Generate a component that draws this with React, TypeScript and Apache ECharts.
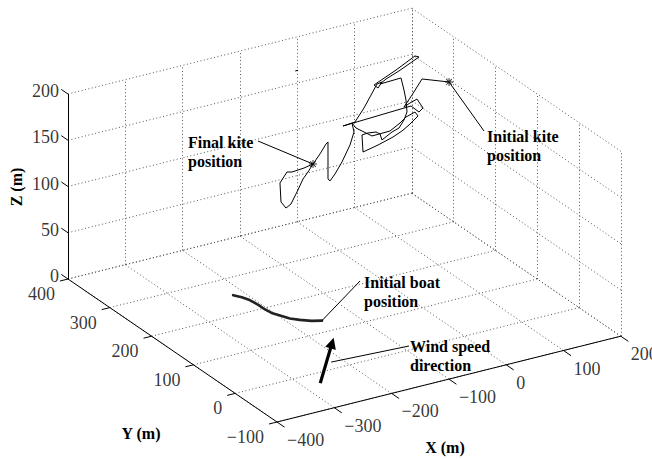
import React, { useEffect, useRef } from "react";
import * as echarts from "echarts";

const W = 652;
const H = 459;

// Axis ticks (data units, metres)
const xTicks = [-400, -300, -200, -100, 0, 100, 200];
const yTicks = [-100, 0, 100, 200, 300, 400];
const zTicks = [0, 50, 100, 150, 200];

// Kite trajectory (m), from initial to final position
const kiteX = [192.0, 144.9, 127.4, 113.4, 123.9, 136.1, 146.6, 139.6, 125.7, 7.0, 27.9, 43.6, 54.1, 66.3, 75.0, 68.1, 61.1, 99.5, 132.6, 139.6, 104.7, 82.0, 71.6, 108.2, 113.4, 116.9, 118.7, 113.4, 104.7, 92.5, 75.0, 71.6, 64.6, 50.6, 40.1, 41.9, 68.1, 94.2, 109.9, 122.2, 137.9, 132.6, 116.9, 106.5, 89.0, 57.6, 29.7, 22.7, 26.2, 19.2, 5.2, -7.0, -15.7, -19.2, -19.2, -19.2, -22.7, -33.2, -45.4, -61.1, -82.0, -90.8, -103.0, -101.2, -92.5, -83.8, -73.3, -62.8, -54.1, -45.4];
const kiteY = [300, 300, 300, 300, 300, 300, 300, 300, 300, 300, 300, 300, 300, 300, 300, 300, 300, 300, 300, 300, 300, 300, 300, 300, 300, 300, 300, 300, 300, 300, 300, 300, 300, 300, 300, 300, 300, 300, 300, 300, 300, 300, 300, 300, 300, 300, 300, 300, 300, 300, 300, 300, 300, 300, 300, 300, 300, 300, 300, 300, 300, 300, 300, 300, 300, 300, 300, 300, 300, 300];
const kiteZ = [152.4, 162.9, 148.3, 137.5, 140.2, 142.6, 131.3, 128.0, 136.7, 133.4, 134.5, 147.2, 157.5, 169.6, 170.5, 165.0, 169.4, 179.6, 189.7, 187.5, 177.8, 172.6, 168.8, 169.7, 155.9, 144.5, 131.3, 123.4, 116.1, 113.7, 107.8, 114.8, 118.0, 119.1, 118.6, 99.9, 103.4, 108.0, 112.1, 116.7, 124.0, 129.1, 126.1, 121.3, 115.3, 114.8, 127.7, 134.2, 123.9, 111.0, 94.8, 83.7, 77.5, 80.2, 100.7, 120.2, 118.5, 109.4, 100.4, 98.5, 97.4, 98.8, 88.8, 68.0, 60.1, 63.1, 74.5, 86.9, 93.1, 100.4];

// Short stray kite sample
const strayX = [-18, -13];
const strayY = [380, 380];
const strayZ = [172, 172];

// Boat trajectory (m), from initial position
const boatX = [-153, -167, -180, -190, -197, -203, -205, -205, -207, -212, -219];
const boatY = [131, 137, 147, 157, 171, 183, 196, 212, 230, 242, 253];
const boatZ = [0, 0, 0, 0, 0, 0, 0, 0, 0, 0, 0];

// Wind speed direction arrow (base, tip)
const windX = [-272, -182];
const windY = [-28, 67];
const windZ = [0, 0];

// ---- view projection (azimuth/elevation of the 3-D axes, in px per metre) ----
const ORIGIN = [464.4, 336.2];
const EX = [0.573, -0.143];
const EY = [-0.418, -0.286];
const EZ = -0.925;
const proj = (x: number, y: number, z: number): number[] => [
  ORIGIN[0] + EX[0] * x + EY[0] * y,
  ORIGIN[1] + EX[1] * x + EY[1] * y + EZ * z,
];

const X0 = xTicks[0], X1 = xTicks[xTicks.length - 1];
const Y0 = yTicks[0], Y1 = yTicks[yTicks.length - 1];
const Z0 = zTicks[0], Z1 = zTicks[zTicks.length - 1];

const fmt = (v: number) => (v < 0 ? "\u2212" + Math.abs(v) : String(v));
const FONT = "'Liberation Serif', 'Times New Roman', Times, serif";

export default function App() {
  const ref = useRef<HTMLDivElement>(null);
  useEffect(() => {
    const chart = echarts.init(ref.current!, null, { renderer: "svg" });
    const seg = (a: number[], b: number[]) => ({ coords: [proj(a[0], a[1], a[2]), proj(b[0], b[1], b[2])] });

    const grid: any[] = [];
    xTicks.forEach((x) => grid.push(seg([x, Y1, Z0], [x, Y1, Z1])));
    zTicks.forEach((z) => grid.push(seg([X0, Y1, z], [X1, Y1, z])));
    yTicks.forEach((y) => grid.push(seg([X1, y, Z0], [X1, y, Z1])));
    zTicks.forEach((z) => grid.push(seg([X1, Y0, z], [X1, Y1, z])));
    xTicks.forEach((x) => grid.push(seg([x, Y0, Z0], [x, Y1, Z0])));
    yTicks.forEach((y) => grid.push(seg([X0, y, Z0], [X1, y, Z0])));

    const axes: any[] = [
      seg([X0, Y1, Z0], [X0, Y1, Z1]),
      seg([X0, Y0, Z0], [X0, Y1, Z0]),
      seg([X0, Y0, Z0], [X1, Y0, Z0]),
    ];
    zTicks.forEach((z) => axes.push(seg([X0, Y1, z], [X0, Y1 + 16, z])));
    yTicks.forEach((y) => axes.push(seg([X0, y, Z0], [X0 - 14, y, Z0])));
    xTicks.forEach((x) => axes.push(seg([x, Y0, Z0], [x, Y0 - 18, Z0])));

    const kitePts = kiteX.map((x, i) => proj(x, kiteY[i], kiteZ[i]));
    const strayPts = strayX.map((x, i) => proj(x, strayY[i], strayZ[i]));
    const boatPts = boatX.map((x, i) => proj(x, boatY[i], boatZ[i]));
    const windPts = windX.map((x, i) => proj(x, windY[i], windZ[i]));
    const kiteStart = kitePts[0];
    const kiteEnd = kitePts[kitePts.length - 1];
    const windMid = proj((windX[0] + windX[1]) / 2, (windY[0] + windY[1]) / 2, 0);

    const leaders = [
      { coords: [[258, 141], kiteEnd] },
      { coords: [[484, 131], kiteStart] },
      { coords: [[360, 281], boatPts[0]] },
      { coords: [[409, 346], [windMid[0] + 5, windMid[1] - 1]] },
    ];

    const lineS = (data: any[], style: any, extra: any = {}) => ({
      type: "lines",
      coordinateSystem: "cartesian2d",
      polyline: true,
      silent: true,
      data,
      lineStyle: { opacity: 1, curveness: 0, ...style },
      ...extra,
    });

    const labelS = (items: { p: number[]; t: string }[], align: string, fontSize: number, fontWeight: string) => ({
      type: "scatter",
      symbolSize: 0,
      silent: true,
      z: 10,
      data: items.map((it) => ({ value: it.p, name: it.t })),
      label: {
        show: true,
        position: [0, 0],
        formatter: "{b}",
        align,
        verticalAlign: "middle",
        fontFamily: FONT,
        fontSize,
        fontWeight,
        color: "#000",
      },
    });

    const zLabels = zTicks.map((z) => {
      const p = proj(X0, Y1, z);
      return { p: [p[0] - 9, p[1] - 3], t: fmt(z) };
    });
    const yLabels = yTicks.map((y) => {
      const p = proj(X0, y, Z0);
      return { p: [p[0] - 13, p[1] + 15], t: fmt(y) };
    });
    const xLabels = xTicks.map((x) => {
      const p = proj(x, Y0, Z0);
      return { p: [p[0] + 10, p[1] + 18], t: fmt(x) };
    });

    const star =
      "path://M-0.6,-5L0.6,-5L0.6,5L-0.6,5Z M-5,-0.6L5,-0.6L5,0.6L-5,0.6Z M-3.9,-3.1L-3.1,-3.9L3.9,3.1L3.1,3.9Z M3.1,-3.9L3.9,-3.1L-3.1,3.9L-3.9,3.1Z";

    const annot = (x: number, top: number, text: string) => ({
      type: "text",
      x,
      y: top,
      silent: true,
      z: 100,
      style: {
        text,
        fill: "#000",
        font: `bold 16px ${FONT}`,
        lineHeight: 19,
        textAlign: "left",
        textVerticalAlign: "top",
      },
    });

    const option: any = {
      animation: false,
      backgroundColor: "#fff",
      grid: { left: 0, right: 0, top: 0, bottom: 0, containLabel: false },
      xAxis: { type: "value", min: 0, max: W, show: false },
      yAxis: { type: "value", min: 0, max: H, inverse: true, show: false },
      series: [
        lineS(grid, { color: "#555", width: 1, type: [1, 2.5] }, { polyline: false }),
        lineS(axes, { color: "#000", width: 1 }, { polyline: false }),
        lineS([{ coords: boatPts }], { color: "#222", width: 2.6, cap: "round", join: "round" }),
        lineS([{ coords: kitePts }, { coords: strayPts }], { color: "#000", width: 1 }),
        lineS(leaders, { color: "#000", width: 1 }, { polyline: false }),
        lineS([{ coords: windPts }], { color: "#000", width: 3.2 }, {
          polyline: false,
          symbol: ["none", "triangle"],
          symbolSize: 11,
          itemStyle: { color: "#000" },
        }),
        {
          type: "scatter",
          silent: true,
          symbol: star,
          symbolSize: 8,
          itemStyle: { color: "#000" },
          data: [kiteStart, kiteEnd],
          z: 5,
        },
        labelS(zLabels, "right", 18, "normal"),
        labelS(yLabels, "right", 18, "normal"),
        labelS(xLabels, "left", 18, "normal"),
      ],
      graphic: [
        annot(188, 132.5, "Final kite\nposition"),
        annot(487, 126.5, "Initial kite\nposition"),
        annot(364, 272.5, "Initial boat\nposition"),
        annot(410, 336.5, "Wind speed\ndirection"),
        {
          type: "text",
          x: 16,
          y: 187,
          rotation: Math.PI / 2,
          silent: true,
          style: { text: "Z (m)", fill: "#000", font: `bold 16px ${FONT}`, textAlign: "center", textVerticalAlign: "middle" },
        },
        {
          type: "text",
          x: 141,
          y: 433,
          silent: true,
          style: { text: "Y (m)", fill: "#000", font: `bold 16px ${FONT}`, textAlign: "center", textVerticalAlign: "middle" },
        },
        {
          type: "text",
          x: 445,
          y: 447,
          silent: true,
          style: { text: "X (m)", fill: "#000", font: `bold 16px ${FONT}`, textAlign: "center", textVerticalAlign: "middle" },
        },
      ],
    };
    chart.setOption(option);
    return () => chart.dispose();
  }, []);
  return (
    <div
      ref={ref}
      style={{ position: "absolute", left: 0, top: 0, width: W, height: H, background: "#fff" }}
    />
  );
}
